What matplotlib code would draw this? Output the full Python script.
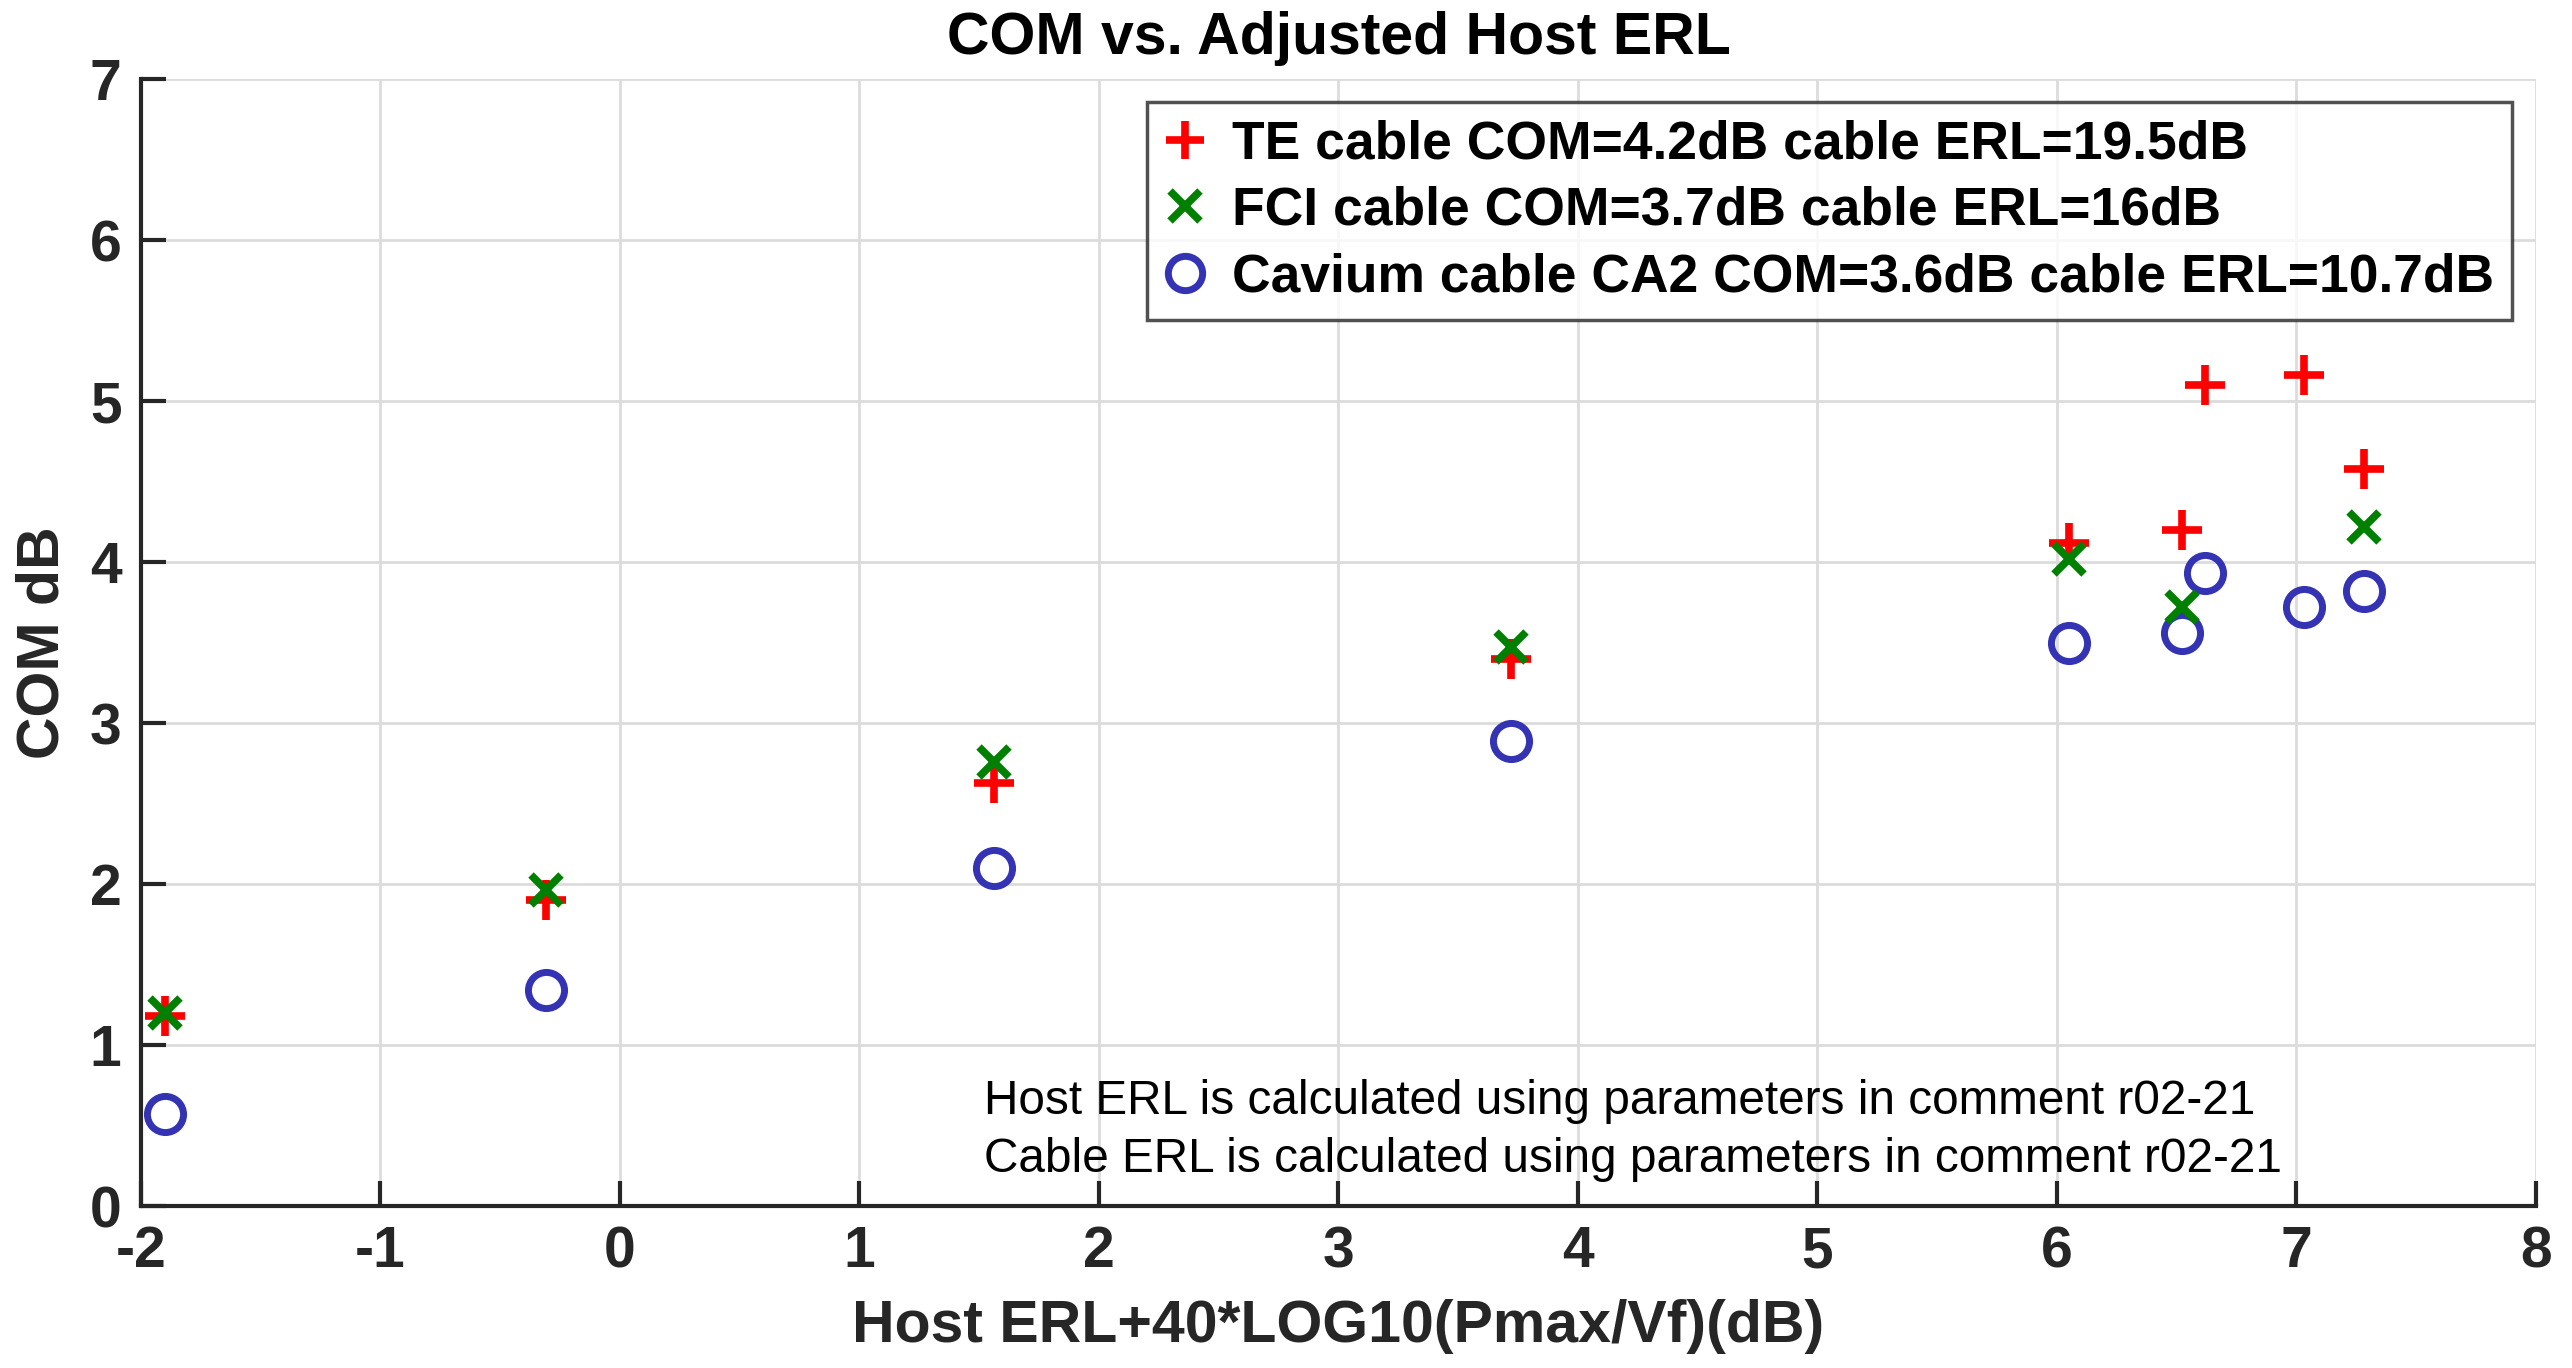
import matplotlib
matplotlib.use("Agg")
import matplotlib.pyplot as plt

plt.rcParams['font.family'] = ['Liberation Sans', 'DejaVu Sans']

# Data
te_x = [-1.90, -0.31, 1.56, 3.72, 6.05, 6.52, 6.62, 7.03, 7.28]
te_y = [1.18, 1.90, 2.63, 3.40, 4.12, 4.20, 5.10, 5.16, 4.58]
fci_x = [-1.90, -0.31, 1.56, 3.72, 6.05, 6.52, 7.28]
fci_y = [1.20, 1.96, 2.76, 3.47, 4.02, 3.72, 4.22]
cav_x = [-1.90, -0.31, 1.56, 3.72, 6.05, 6.52, 6.62, 7.03, 7.28]
cav_y = [0.57, 1.34, 2.10, 2.89, 3.50, 3.56, 3.93, 3.72, 3.82]

labels = ["TE cable COM=4.2dB cable ERL=19.5dB",
          "FCI cable COM=3.7dB cable ERL=16dB",
          "Cavium cable CA2 COM=3.6dB cable ERL=10.7dB"]
xticks = [-2, -1, 0, 1, 2, 3, 4, 5, 6, 7, 8]
yticks = [0, 1, 2, 3, 4, 5, 6, 7]

fig = plt.figure(figsize=(25.72, 13.68), dpi=100)
ax = fig.add_axes([0.0548, 0.1184, 0.9312, 0.8238])

ax.plot(te_x, te_y, linestyle='none', marker='+', color=(1, 0, 0),
        markersize=29, markeredgewidth=5.5, label=labels[0], zorder=3)
ax.plot(fci_x, fci_y, linestyle='none', marker='x', color=(0, 0.5, 0),
        markersize=22, markeredgewidth=5.5, label=labels[1], zorder=4)
ax.plot(cav_x, cav_y, linestyle='none', marker='o', markerfacecolor='none',
        markeredgecolor=(0.2, 0.2, 0.7), markersize=26, markeredgewidth=5,
        label=labels[2], zorder=3)

ax.set_xlim(-2, 8)
ax.set_ylim(0, 7)
ax.set_xticks(xticks)
ax.set_yticks(yticks)
ax.set_xticklabels([str(v) for v in xticks])
ax.set_yticklabels([str(v) for v in yticks])

for s in ['top', 'right']:
    ax.spines[s].set_visible(False)
for s in ['left', 'bottom']:
    ax.spines[s].set_color('#262626')
    ax.spines[s].set_linewidth(3)

ax.grid(True, color='#dcdcdc', linewidth=2)
ax.set_axisbelow(True)
ax.tick_params(direction='in', length=18, width=3, colors='#262626',
               labelsize=41, pad=14)
for t in ax.get_xticklabels() + ax.get_yticklabels():
    t.set_fontweight('bold')

ax.set_title("COM vs. Adjusted Host ERL", fontsize=42.5, fontweight='bold',
             color='black', pad=18)
ax.set_xlabel("Host ERL+40*LOG10(Pmax/Vf)(dB)", fontsize=42.5, fontweight='bold',
              color='#262626', labelpad=14)
ax.set_ylabel("COM dB", fontsize=42.5, fontweight='bold', color='#262626',
              labelpad=14)

leg = ax.legend(loc='upper right', bbox_to_anchor=(0.990, 0.980),
                borderaxespad=0,
                prop={'size': 38.4, 'weight': 'bold'}, frameon=True,
                fancybox=False, edgecolor='#262626', handlelength=0.75,
                handletextpad=0.52, borderpad=0.33, labelspacing=0.31,
                markerscale=0.95)
leg.get_frame().set_linewidth(2.5)

ax.text(0.352, 0.021, "Host ERL is calculated using parameters in comment r02-21\n"
        "Cable ERL is calculated using parameters in comment r02-21",
        transform=ax.transAxes, fontsize=34.4, va='bottom', ha='left',
        linespacing=1.38)

fig.savefig("out.png", dpi=100)
